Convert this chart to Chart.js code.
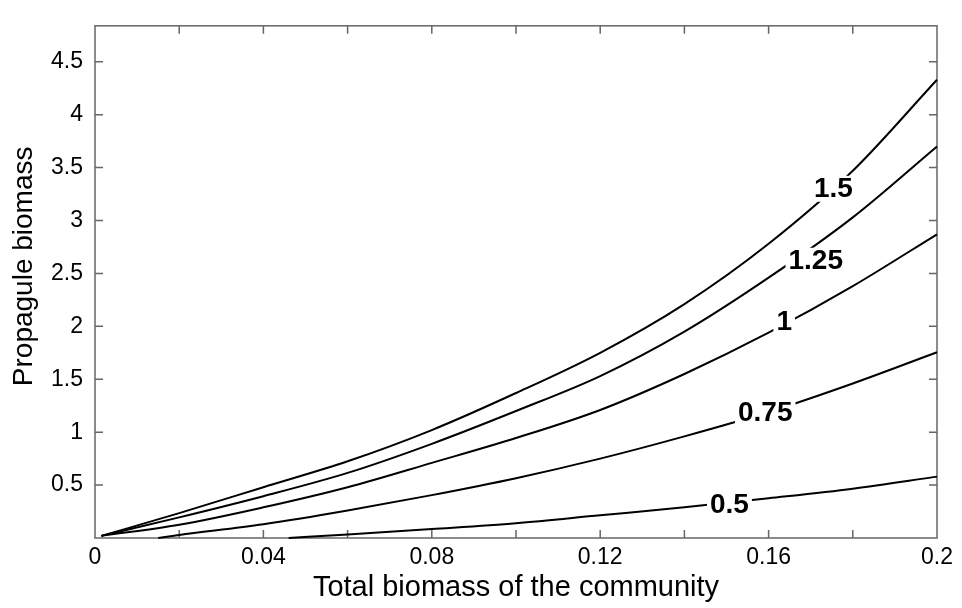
<!DOCTYPE html>
<html><head><meta charset="utf-8">
<script src="https://cdn.jsdelivr.net/npm/chart.js@4/dist/chart.umd.min.js"></script>
<style>html,body{margin:0;padding:0;background:#fff;} canvas{display:block;}</style>
</head><body>
<canvas id="c" width="962" height="608"></canvas>
<script>
// ---- data ----
const contourLevels = ['1.5', '1.25', '1', '0.75', '0.5'];

const x150 = [0.0015, 0.02, 0.04, 0.06, 0.08, 0.10, 0.12, 0.14, 0.16, 0.18, 0.20];
const y150 = [0.02, 0.235, 0.48, 0.725, 1.02, 1.37, 1.75, 2.21, 2.78, 3.47, 4.33];

const x125 = [0.0015, 0.02, 0.04, 0.06, 0.08, 0.10, 0.12, 0.14, 0.16, 0.18, 0.20];
const y125 = [0.02, 0.195, 0.395, 0.615, 0.89, 1.20, 1.53, 1.95, 2.46, 3.03, 3.70];

const x100 = [0.0015, 0.02, 0.04, 0.06, 0.08, 0.10, 0.12, 0.14, 0.16, 0.18, 0.20];
const y100 = [0.02, 0.125, 0.29, 0.48, 0.71, 0.945, 1.21, 1.55, 1.94, 2.38, 2.87];

const x075 = [0.015, 0.02, 0.04, 0.06, 0.08, 0.10, 0.12, 0.14, 0.16, 0.18, 0.20];
const y075 = [0.0, 0.028, 0.13, 0.26, 0.405, 0.565, 0.75, 0.96, 1.19, 1.46, 1.755];

const x050 = [0.046, 0.06, 0.08, 0.10, 0.12, 0.14, 0.16, 0.18, 0.20];
const y050 = [0.0, 0.034, 0.085, 0.14, 0.215, 0.29, 0.375, 0.466, 0.58];

const labelX = [0.1754, 0.1712, 0.1637, 0.1592, 0.1507];
const labelY = [3.30, 2.62, 2.05, 1.19, 0.32];

const xTickValues = [0, 0.04, 0.08, 0.12, 0.16, 0.2];
const xTickLabels = ['0', '0.04', '0.08', '0.12', '0.16', '0.2'];
const yTickValues = [0.5, 1, 1.5, 2, 2.5, 3, 3.5, 4, 4.5];
const yTickLabels = ['0.5', '1', '1.5', '2', '2.5', '3', '3.5', '4', '4.5'];
const xTickMarks = [0.02, 0.04, 0.06, 0.08, 0.10, 0.12, 0.14, 0.16, 0.18];
const yTickMarks = [0.5, 1, 1.5, 2, 2.5, 3, 3.5, 4, 4.5];

const xTitle = 'Total biomass of the community';
const yTitle = 'Propagule biomass';

// ---- build ----
const seriesX = [x150, x125, x100, x075, x050];
const seriesY = [y150, y125, y100, y075, y050];
const datasets = seriesX.map((xs, i) => ({
  label: contourLevels[i],
  data: xs.map((v, k) => ({x: v, y: seriesY[i][k]})),
  borderColor: '#000',
  borderWidth: 2,
  pointRadius: 0,
  fill: false,
  cubicInterpolationMode: 'monotone',
  clip: 3
}));

const FONT = '"Liberation Sans", Arial, Helvetica, sans-serif';

const framePlugin = {
  id: 'frame',
  beforeDatasetsDraw(chart) {
    const {ctx, chartArea: a, scales: {x, y}} = chart;
    ctx.save();
    ctx.strokeStyle = '#666';
    ctx.lineWidth = 1.5;
    ctx.strokeRect(a.left, a.top, a.right - a.left, a.bottom - a.top);
    ctx.beginPath();
    xTickMarks.forEach(v => {
      const p = x.getPixelForValue(v);
      ctx.moveTo(p, a.bottom); ctx.lineTo(p, a.bottom - 8);
      ctx.moveTo(p, a.top); ctx.lineTo(p, a.top + 8);
    });
    yTickMarks.forEach(v => {
      const p = y.getPixelForValue(v);
      ctx.moveTo(a.left, p); ctx.lineTo(a.left + 8, p);
      ctx.moveTo(a.right, p); ctx.lineTo(a.right - 8, p);
    });
    ctx.stroke();
    ctx.restore();
  }
};

const labelPlugin = {
  id: 'contourLabels',
  afterDatasetsDraw(chart) {
    const {ctx, scales: {x, y}} = chart;
    ctx.save();
    ctx.font = 'bold 28px ' + FONT;
    ctx.textAlign = 'center';
    ctx.textBaseline = 'middle';
    contourLevels.forEach((t, i) => {
      const px = x.getPixelForValue(labelX[i]);
      const py = y.getPixelForValue(labelY[i]);
      const w = ctx.measureText(t).width;
      ctx.fillStyle = '#fff';
      ctx.fillRect(px - w / 2 - 3, py - 13, w + 6, 26);
      ctx.fillStyle = '#000';
      ctx.fillText(t, px, py + 1);
    });
    ctx.restore();
  }
};

new Chart(document.getElementById('c'), {
  type: 'line',
  data: {datasets},
  options: {
    responsive: false,
    devicePixelRatio: 1,
    animation: false,
    layout: {padding: {top: 6, right: 25, left: 0, bottom: 0}},
    plugins: {legend: {display: false}, tooltip: {enabled: false}},
    scales: {
      x: {
        type: 'linear',
        min: 0, max: 0.2,
        grid: {display: false, drawTicks: false},
        border: {display: false},
        afterBuildTicks: s => { s.ticks = xTickValues.map(v => ({value: v})); },
        afterFit: s => { s.height = 70; },
        ticks: {
          color: '#000',
          font: {family: FONT, size: 23},
          padding: 6,
          maxRotation: 0,
          autoSkip: false,
          callback: (v, i) => xTickLabels[i]
        },
        title: {
          display: true, text: xTitle, color: '#000',
          font: {family: FONT, size: 29},
          padding: {top: 0, bottom: 3}
        }
      },
      y: {
        type: 'linear',
        min: 0, max: 4.84,
        grid: {display: false, drawTicks: false},
        border: {display: false},
        afterBuildTicks: s => { s.ticks = yTickValues.map(v => ({value: v})); },
        afterFit: s => { s.width = 95; },
        ticks: {
          color: '#000',
          font: {family: FONT, size: 23},
          padding: 12,
          autoSkip: false,
          callback: (v, i) => yTickLabels[i]
        },
        title: {
          display: true, text: '\u00a0\u00a0\u00a0\u00a0' + yTitle, color: '#000',
          font: {family: FONT, size: 28},
          padding: {top: 7, bottom: 0}
        }
      }
    }
  },
  plugins: [framePlugin, labelPlugin]
});
</script>
</body></html>
